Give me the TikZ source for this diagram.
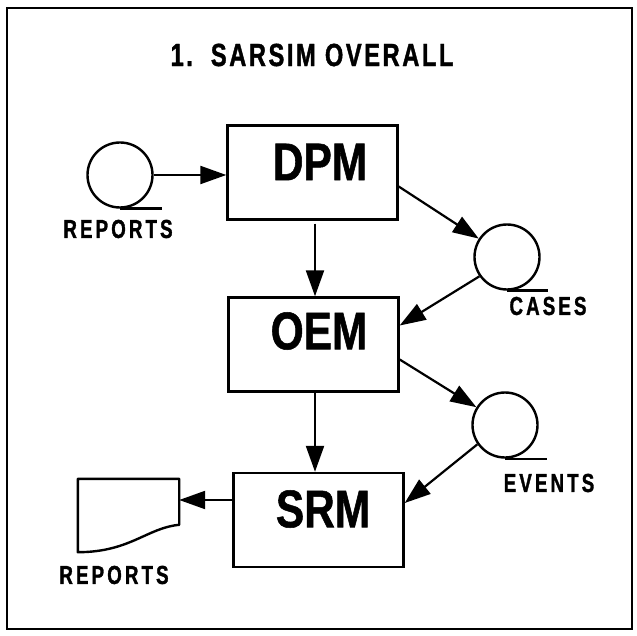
\documentclass[tikz,border=0pt]{standalone}
\usepackage{fontspec}
\newfontfamily\condfont[FakeStretch=0.8,FakeBold=1]{Liberation Sans Bold}
\newfontfamily\condspaced[FakeStretch=0.72,LetterSpace=12,FakeBold=1.2]{Liberation Sans Bold}
\newfontfamily\condtitle[FakeStretch=0.74,LetterSpace=8,FakeBold=1.2]{Liberation Sans Bold}
\usetikzlibrary{arrows.meta,calc}
\begin{document}
\begin{tikzpicture}[x=1pt,y=-1pt,
  procbox/.style={draw,line width=2.4pt,rectangle,inner sep=0pt,
    minimum width=170pt,minimum height=94pt},
  bigtext/.style={inner sep=0pt,font=\condfont\fontsize{53}{56}\selectfont},
  store/.style={draw,line width=2.4pt,circle,inner sep=0pt,minimum size=65pt},
  tail/.style={line width=2.4pt},
  flow/.style={line width=2.2pt,-{Triangle[length=26pt,width=18pt]}},
  storelabel/.style={inner sep=0pt,font=\condspaced\fontsize{26}{28}\selectfont},
  docline/.style={line width=2.4pt,line join=round}]
\useasboundingbox (0,0) rectangle (637,636);
% outer frame
\draw[line width=2.4pt] (7,8) rectangle (632,629);
% title
\node[inner sep=0pt,font=\condtitle\fontsize{32}{34}\selectfont] (title) at (312,55)
  {1.\hspace{18pt}SARSIM OVERALL};

% processes
\node[procbox] (dpm) at (312.5,172.5) {};
\node[bigtext] (dpmtext) at (320,162) {DPM};
\node[procbox] (oem) at (313.5,344.5) {};
\node[bigtext] (oemtext) at (319,331) {OEM};
\node[procbox] (srm) at (318.5,520) {};
\node[bigtext] (srmtext) at (323,509) {SRM};

% data stores
\node[store] (rep) at (120,175) {};
\draw[tail] (rep.south) -- ++(42,0);
\node[storelabel] (replabel) at (118,229) {REPORTS};

\node[store] (cases) at (507,257) {};
\draw[tail] (cases.south) -- ++(41,0);
\node[storelabel] (caseslabel) at (548,306) {CASES};

\node[store] (events) at (505,425) {};
\draw[tail] (events.south) -- ++(42,0);
\node[storelabel] (eventslabel) at (549,483) {EVENTS};

% printed report document
\node[inner sep=0pt,minimum width=101pt,minimum height=73pt] (doc) at (128.5,515.5) {};
\draw[docline] (doc.north west) -- (doc.north east) -- ($(doc.north east)+(0,46)$)
  .. controls ($(doc.north east)+(-32,49)$) and ($(doc.south west)+(52,0)$) .. (doc.south west)
  -- cycle;
\node[storelabel] (doclabel) at (114,575) {REPORTS};

% flows
\draw[flow] (rep.east) -- (rep.east -| dpm.west);
\draw[flow] ($(dpm.south)+(2.5,3)$) -- ($(oem.north)+(1.5,0)$);
\draw[flow] ($(oem.south)+(1.5,0)$) -- ($(srm.north)+(-3.5,0)$);
\coordinate (dpmout) at ($(dpm.east)+(0,14)$);
\draw[flow] (dpmout) -- (cases);
\draw[flow] (cases.215) -- ($(oem.east)+(0,-19)$);
\coordinate (oemout) at ($(oem.east)+(0,15)$);
\draw[flow] (oemout) -- (events);
\draw[flow] (events.215) -- ($(srm.east)+(0,-17)$);
\draw[flow] ($(srm.west)+(0,-20)$) -- ($(doc.east)+(0,-15.5)$);
\end{tikzpicture}
\end{document}
